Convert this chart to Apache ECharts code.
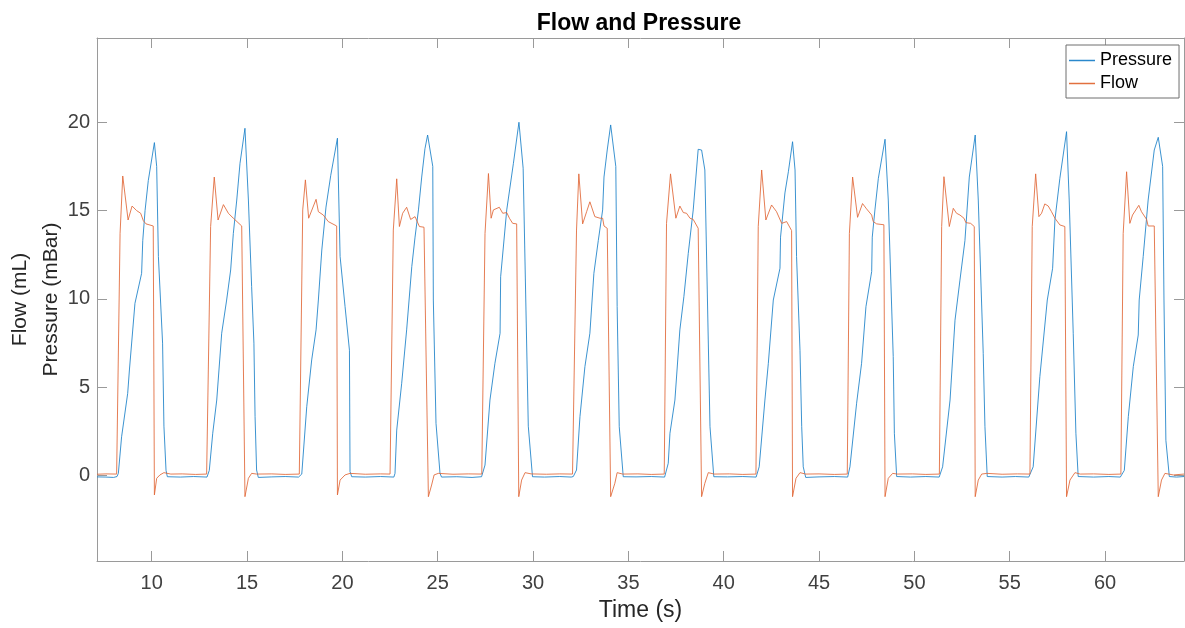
<!DOCTYPE html>
<html>
<head>
<meta charset="utf-8">
<script src="https://cdn.jsdelivr.net/npm/echarts/dist/echarts.min.js"></script>
<style>
html,body{margin:0;padding:0;background:#fff;}
#chart{width:1185px;height:628px;}
</style>
</head>
<body>
<div id="chart"></div>
<script>
// ---- data ----
const xTickValues = [10, 15, 20, 25, 30, 35, 40, 45, 50, 55, 60];
const yTickValues = [0, 5, 10, 15, 20];

// Pressure (mBar) vertices: [time s, value]
const pressure = [
  [7.13,-0.07],[7.6,-0.08],[8.0,-0.1],[8.18,-0.05],
  [8.25,0.13],[8.42,2.2],[8.74,4.66],[8.83,5.98],[9.12,9.75],[9.47,11.45],[9.53,13.3],[9.65,15.0],[9.82,16.7],[10.14,18.85],[10.26,17.5],[10.35,12.4],[10.57,7.5],[10.64,2.8],[10.75,0.3],[10.82,-0.06],
  [11.5,-0.08],[12.2,-0.05],[12.9,-0.08],
  [13.02,0.3],[13.2,2.4],[13.41,4.28],[13.67,8.06],[13.93,9.94],[14.14,11.64],[14.28,13.7],[14.46,15.6],[14.63,17.68],[14.89,19.66],[15.07,15.6],[15.24,10.7],[15.36,7.5],[15.42,3.34],[15.5,0.32],[15.59,-0.1],
  [16.3,-0.07],[17.0,-0.05],[17.7,-0.08],
  [17.87,0.09],[18.13,3.9],[18.39,6.55],[18.62,8.25],[18.74,9.94],[18.92,12.77],[19.14,15.2],[19.39,17.0],[19.74,19.1],[19.88,12.4],[20.14,9.57],[20.37,7.1],[20.4,0.23],[20.49,-0.06],
  [21.2,-0.08],[22.0,-0.05],[22.7,-0.08],
  [22.76,0.13],[22.85,2.58],[23.11,5.23],[23.37,8.25],[23.64,11.83],[23.81,13.5],[23.99,15.04],[24.16,16.9],[24.33,18.5],[24.47,19.28],[24.74,17.5],[24.77,9.94],[24.91,2.96],[25.12,0.13],[25.2,-0.08],
  [26.0,-0.06],[26.8,-0.1],[27.3,-0.06],
  [27.48,0.6],[27.74,4.28],[28.0,6.36],[28.27,8.06],[28.3,11.26],[28.62,15.04],[28.97,17.68],[29.26,20.0],[29.48,17.4],[29.75,2.8],[29.97,-0.06],
  [30.6,-0.08],[31.4,-0.05],[32.0,-0.08],
  [32.11,-0.05],[32.28,0.32],[32.46,3.34],[32.72,6.17],[32.98,8.06],[33.19,11.45],[33.42,13.3],[33.65,15.04],[33.72,16.9],[33.89,18.43],[34.07,19.85],[34.34,17.5],[34.41,9.57],[34.52,2.77],[34.73,-0.06],
  [35.4,-0.07],[36.2,-0.05],[36.9,-0.08],
  [36.97,-0.05],[37.09,0.7],[37.18,2.4],[37.44,4.28],[37.7,8.25],[37.91,10.13],[38.14,12.58],[38.4,15.04],[38.66,18.47],[38.84,18.43],[39.01,17.3],[39.28,2.77],[39.48,-0.06],
  [40.2,-0.07],[41.0,-0.05],[41.7,-0.08],
  [41.76,-0.05],[41.86,0.5],[42.16,4.28],[42.34,6.36],[42.6,9.94],[42.95,11.74],[42.98,13.5],[43.21,16.0],[43.39,17.2],[43.61,18.9],[43.74,17.3],[43.82,12.4],[44.0,7.1],[44.09,2.77],[44.17,0.5],[44.3,-0.1],
  [45.0,-0.07],[45.8,-0.05],[46.5,-0.08],
  [46.53,-0.05],[46.62,0.5],[46.97,4.1],[47.23,6.36],[47.46,9.57],[47.76,11.55],[47.79,13.5],[47.93,15.04],[48.11,16.83],[48.46,19.04],[48.63,15.6],[48.89,6.74],[48.95,2.4],[49.07,-0.05],
  [49.8,-0.08],[50.6,-0.05],[51.3,-0.08],
  [51.34,-0.05],[51.48,0.5],[51.87,4.28],[52.13,8.8],[52.39,11.07],[52.65,13.3],[52.88,16.9],[53.19,19.28],[53.35,15.6],[53.61,6.92],[53.7,2.77],[53.82,-0.05],
  [54.6,-0.08],[55.3,-0.05],[56.0,-0.08],
  [56.06,-0.05],[56.23,0.5],[56.58,5.6],[56.97,9.94],[57.25,11.74],[57.37,14.47],[57.63,16.83],[57.98,19.47],[58.12,15.6],[58.33,8.06],[58.47,2.4],[58.59,-0.05],
  [59.4,-0.08],[60.2,-0.05],[60.8,-0.08],
  [60.87,-0.05],[61.01,0.3],[61.22,3.34],[61.48,6.17],[61.74,7.96],[61.79,9.94],[62.0,12.4],[62.26,15.6],[62.58,18.43],[62.79,19.15],[63.02,17.5],[63.09,9.94],[63.19,2.0],[63.37,-0.05],[63.75,-0.08],[64.14,-0.05]
];

// Flow (mL) vertices: [time s, value]
const flow = [
  [7.13,0.08],[7.6,0.1],[8.16,0.09],
  [8.34,13.7],[8.48,16.96],[8.76,14.47],[8.97,15.26],[9.21,15.0],[9.42,14.85],[9.56,14.43],[9.7,14.25],[10.08,14.13],[10.14,-1.09],[10.26,-0.15],[10.43,0.04],[10.64,0.17],[11.0,0.09],
  [11.6,0.1],[12.3,0.07],[12.88,0.09],
  [13.09,14.1],[13.28,16.9],[13.48,14.47],[13.76,15.34],[14.02,14.85],[14.28,14.57],[14.72,14.13],[14.89,-1.19],[15.07,-0.15],[15.24,0.13],[15.5,0.09],
  [16.3,0.1],[17.0,0.07],[17.74,0.09],
  [17.92,15.04],[18.06,16.74],[18.23,14.57],[18.62,15.64],[18.74,14.94],[19.0,14.75],[19.26,14.38],[19.7,14.13],[19.74,-1.09],[19.88,-0.25],[20.14,0.04],[20.4,0.13],
  [21.2,0.08],[22.0,0.1],[22.5,0.09],
  [22.67,13.9],[22.85,16.8],[22.99,14.1],[23.16,14.85],[23.37,15.19],[23.58,14.5],[23.81,14.66],[24.04,14.1],[24.28,14.06],[24.51,-1.19],[24.68,-0.53],[24.81,0.04],[25.03,0.13],
  [25.8,0.08],[26.6,0.1],[27.31,0.09],
  [27.48,13.7],[27.66,17.1],[27.8,14.57],[27.92,15.04],[28.23,15.19],[28.41,14.85],[28.62,14.89],[28.76,14.57],[28.93,14.28],[29.14,14.25],[29.25,-1.19],[29.4,-0.25],[29.58,0.17],[29.9,0.1],
  [30.7,0.08],[31.4,0.1],[32.07,0.09],
  [32.28,13.9],[32.4,17.08],[32.6,14.25],[32.81,14.94],[32.98,15.5],[33.24,14.66],[33.51,14.57],[33.65,14.57],[33.72,14.13],[33.89,14.0],[34.07,-1.19],[34.29,-0.43],[34.41,0.17],[34.7,0.09],
  [35.5,0.1],[36.2,0.07],[36.88,0.09],
  [37.0,14.28],[37.21,17.08],[37.49,14.57],[37.7,15.26],[37.88,14.89],[38.05,14.85],[38.23,14.57],[38.4,14.5],[38.66,14.0],[38.84,-1.19],[39.01,-0.43],[39.19,0.17],[39.5,0.09],
  [40.3,0.1],[41.0,0.07],[41.69,0.09],
  [41.81,14.1],[41.99,17.3],[42.21,14.47],[42.51,15.32],[42.77,14.94],[43.04,14.28],[43.3,14.38],[43.56,13.87],[43.61,-1.19],[43.79,-0.15],[44.0,0.17],[44.3,0.09],
  [45.0,0.1],[45.8,0.07],[46.48,0.09],
  [46.59,13.7],[46.76,16.9],[47.02,14.62],[47.28,15.4],[47.49,15.1],[47.76,14.75],[47.84,14.38],[48.02,14.25],[48.4,14.2],[48.46,-1.19],[48.63,-0.15],[48.86,0.13],[49.1,0.09],
  [49.9,0.1],[50.6,0.07],[51.31,0.09],
  [51.43,14.1],[51.55,16.92],[51.83,14.1],[52.04,15.13],[52.21,14.85],[52.39,14.75],[52.6,14.57],[52.7,14.32],[52.95,14.28],[53.14,14.1],[53.19,-1.19],[53.35,-0.25],[53.53,0.09],[53.8,0.13],
  [54.6,0.08],[55.4,0.1],[56.06,0.09],
  [56.18,14.1],[56.36,17.08],[56.53,14.66],[56.67,14.85],[56.84,15.38],[57.02,15.26],[57.19,14.94],[57.37,14.57],[57.46,14.66],[57.63,14.19],[57.89,14.1],[57.98,-1.19],[58.16,-0.25],[58.42,0.17],[58.7,0.09],
  [59.4,0.1],[60.2,0.07],[60.83,0.09],
  [60.95,13.7],[61.13,17.2],[61.3,14.28],[61.44,14.75],[61.77,15.3],[61.91,14.94],[62.18,14.5],[62.26,14.13],[62.58,14.13],[62.79,-1.19],[62.96,-0.25],[63.14,0.13],[63.58,0.04],[64.14,0.09]
];

const xRange = [7.13, 64.14];
const yRange = [-4.83, 24.77];

// ---- chart ----
const FONT = '"Liberation Sans", Arial, Helvetica, sans-serif';
const axisColor = '#9a9a9a';
const chart = echarts.init(document.getElementById('chart'), null, {renderer: 'canvas'});

function boxAxis(extra) {
  return Object.assign({
    type: 'value',
    axisLine: {show: true, onZero: false, lineStyle: {color: axisColor, width: 1}},
    axisTick: {show: true, inside: true, length: 10, lineStyle: {color: axisColor, width: 1}},
    splitLine: {show: false},
    axisLabel: {show: false}
  }, extra);
}

chart.setOption({
  animation: false,
  backgroundColor: '#ffffff',
  title: {
    text: 'Flow and Pressure',
    left: 634,
    textAlign: 'center',
    top: 7,
    textStyle: {fontFamily: FONT, fontSize: 23, fontWeight: 'bold', color: '#000'}
  },
  legend: {
    orient: 'vertical',
    left: 1066,
    top: 45,
    padding: [4, 7, 3, 3],
    icon: 'rect',
    itemWidth: 26,
    itemHeight: 1.5,
    itemGap: 0,
    backgroundColor: '#fff',
    borderColor: '#6e6e6e',
    borderWidth: 1,
    borderRadius: 0,
    textStyle: {fontFamily: FONT, fontSize: 18, color: '#000', lineHeight: 23},
    data: ['Pressure', 'Flow']
  },
  grid: {left: 97, right: 1, top: 38, bottom: 67, containLabel: false, outerBoundsMode: 'none'},
  xAxis: [
    boxAxis({
      position: 'bottom', min: xRange[0], max: xRange[1],
      axisTick: {show: true, inside: true, length: 10, customValues: xTickValues, lineStyle: {color: axisColor, width: 1}},
      axisLabel: {show: true, customValues: xTickValues, fontFamily: FONT, fontSize: 20, color: '#404040', margin: 12},
      name: 'Time (s)', nameLocation: 'middle', nameGap: 38, nameMoveOverlap: false,
      nameTextStyle: {fontFamily: FONT, fontSize: 23, color: '#262626'}
    }),
    boxAxis({
      position: 'top', min: xRange[0], max: xRange[1],
      axisTick: {show: true, inside: true, length: 10, customValues: xTickValues, lineStyle: {color: axisColor, width: 1}}
    })
  ],
  yAxis: [
    boxAxis({
      position: 'left', min: yRange[0], max: yRange[1],
      axisTick: {show: true, inside: true, length: 10, customValues: yTickValues, lineStyle: {color: axisColor, width: 1}},
      axisLabel: {show: true, customValues: yTickValues, fontFamily: FONT, fontSize: 20, color: '#404040', margin: 7},
      name: 'Flow (mL)\nPressure (mBar)', nameLocation: 'middle', nameRotate: 90, nameGap: 30, nameMoveOverlap: false,
      nameTextStyle: {fontFamily: FONT, fontSize: 21, color: '#262626', lineHeight: 31}
    }),
    boxAxis({
      position: 'right', min: yRange[0], max: yRange[1],
      axisTick: {show: true, inside: true, length: 10, customValues: yTickValues, lineStyle: {color: axisColor, width: 1}}
    })
  ],
  series: [
    {
      name: 'Pressure', type: 'line', xAxisIndex: 0, yAxisIndex: 0,
      data: pressure, symbol: 'none', showSymbol: false, clip: true,
      color: '#2a88cc',
      lineStyle: {width: 1, color: '#1a80c8', opacity: 0.85}
    },
    {
      name: 'Flow', type: 'line', xAxisIndex: 0, yAxisIndex: 0,
      data: flow, symbol: 'none', showSymbol: false, clip: true,
      color: '#e2703f',
      lineStyle: {width: 1, color: '#e06636', opacity: 0.85}
    }
  ]
});
</script>
</body>
</html>
